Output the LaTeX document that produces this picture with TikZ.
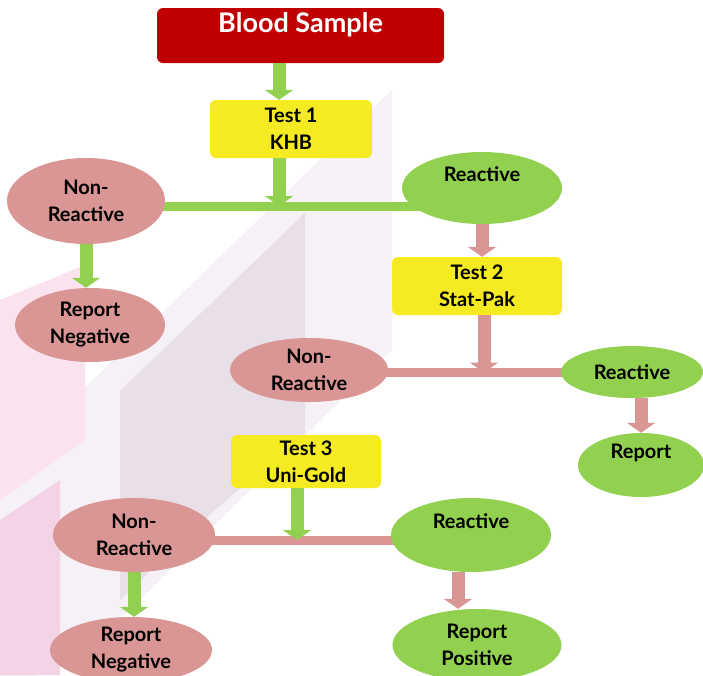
\documentclass[tikz,border=0pt]{standalone}
\usepackage{fontspec}
\setmainfont{Lato}
\usetikzlibrary{arrows.meta, shapes.geometric, backgrounds}

\definecolor{bloodred}{HTML}{C00000}
\definecolor{testyellow}{HTML}{F6EB22}
\definecolor{negpink}{HTML}{D99694}
\definecolor{posgreen}{HTML}{92D050}
\definecolor{bglav}{HTML}{F5F1F6}
\definecolor{bgmauve}{HTML}{E9DFE8}
\definecolor{bgpink}{HTML}{FAE3EE}
\definecolor{bgrose}{HTML}{F3D3E5}

\begin{document}
\begin{tikzpicture}[x=1pt,y=-1pt,
    testbox/.style={rectangle,rounded corners=6pt,fill=testyellow,inner sep=0pt,
                    font=\fontsize{20}{27}\selectfont\bfseries,align=center},
    negoval/.style={ellipse,fill=negpink,inner sep=0pt,
                    font=\fontsize{20}{27}\selectfont\bfseries,align=center},
    posoval/.style={negoval,fill=posgreen},
    garrow/.style={line width=13pt,draw=posgreen,
                   -{Triangle[width=28pt,length=10pt]}},
    parrow/.style={garrow,draw=negpink},
    gline/.style={line width=9pt,draw=posgreen},
    pline/.style={line width=9pt,draw=negpink}]
    \useasboundingbox (0,0) rectangle (703,675);
    % Start
    \node[rectangle,rounded corners=6pt,fill=bloodred,text=white,inner sep=0pt,
          minimum width=287pt,minimum height=55pt,align=center,
          font=\fontsize{27}{26}\selectfont\bfseries](bs)at(300.5,35.5)
         {Blood Sample\\\mbox{}};
    % Test 1
    \node[testbox,minimum width=162pt,minimum height=58pt](t1)at(291,129)
         {Test 1\\KHB};
    \node[negoval,minimum width=158pt,minimum height=86pt](nr1)at(86,201)
         {Non-\\Reactive};
    \node[posoval,minimum width=160pt,minimum height=72pt](r1)at(482,188)
         {Reactive\\\mbox{}};
    \node[negoval,minimum width=150pt,minimum height=74pt](rn1)at(90,325)
         {Report\\Negative};
    \coordinate (j1) at (279,206);
    % Test 2
    \node[testbox,minimum width=170pt,minimum height=58pt](t2)at(477,286)
         {Test 2\\Stat-Pak};
    \node[negoval,minimum width=158pt,minimum height=64pt](nr2)at(309,370)
         {Non-\\Reactive};
    \node[posoval,minimum width=142pt,minimum height=52pt](r2)at(632,372)
         {Reactive};
    \node[posoval,minimum width=126pt,minimum height=64pt](rp2)at(641,465)
         {Report\\\mbox{}};
    \coordinate (j2) at (484,372.5);
    % Test 3
    \node[testbox,minimum width=150pt,minimum height=53pt](t3)at(306,461.5)
         {Test 3\\Uni-Gold};
    \node[negoval,minimum width=162pt,minimum height=74pt](nr3)at(134,535)
         {Non-\\Reactive};
    \node[posoval,minimum width=160pt,minimum height=74pt](r3)at(471,535)
         {Reactive\\\mbox{}};
    \node[negoval,minimum width=162pt,minimum height=66pt](rn3)at(131,650)
         {Report\\Negative};
    \node[posoval,minimum width=169pt,minimum height=72pt](rpos)at(477,645)
         {Report\\Positive};
    \coordinate (j3) at (297,540);
    % arrows
    \draw[garrow] (bs.south -| j1) -- (t1.north -| j1);
    \draw[garrow] (t1.south -| j1) -- (j1);
    \draw[garrow] (nr1.south) -- (nr1.south |- rn1.north);
    \draw[parrow] (r1.south) -- (r1.south |- t2.north);
    \draw[parrow] (t2.south -| j2) -- (j2);
    \draw[parrow] (rp2.north |- r2.south) -- (rp2.north);
    \draw[garrow] (t3.south -| j3) -- (j3);
    \draw[garrow] (nr3.south) -- (nr3.south |- rn3.north);
    \draw[parrow] ([xshift=-13pt]r3.south) -- ([xshift=-13pt]r3.south |- rpos.north);
    \begin{scope}[on background layer]
      \fill[white] (0,0) rectangle (703,675);
      \clip (0,0) rectangle (703,675);
      % faint backdrop
      \fill[bglav] (0,470) -- (392,90) -- (392,350) -- (300,440)
                   -- (130,610) -- (0,700) -- cycle;
      \fill[bgmauve] (120,391) -- (305,213) -- (305,433) -- (215,510)
                     -- (120,600) -- cycle;
      \fill[bgpink] (0,300) -- (85,265) -- (85,440) -- (0,500) -- cycle;
      \fill[bgrose] (0,520) -- (60,480) -- (60,675) -- (0,675) -- cycle;
      % branch lines
      \draw[gline] (nr1.center |- j1) -- (r1.center |- j1);
      \draw[pline] (nr2.center |- j2) -- (r2.center |- j2);
      \draw[pline] (nr3.center |- j3) -- (r3.center |- j3);
    \end{scope}
\end{tikzpicture}
\end{document}
